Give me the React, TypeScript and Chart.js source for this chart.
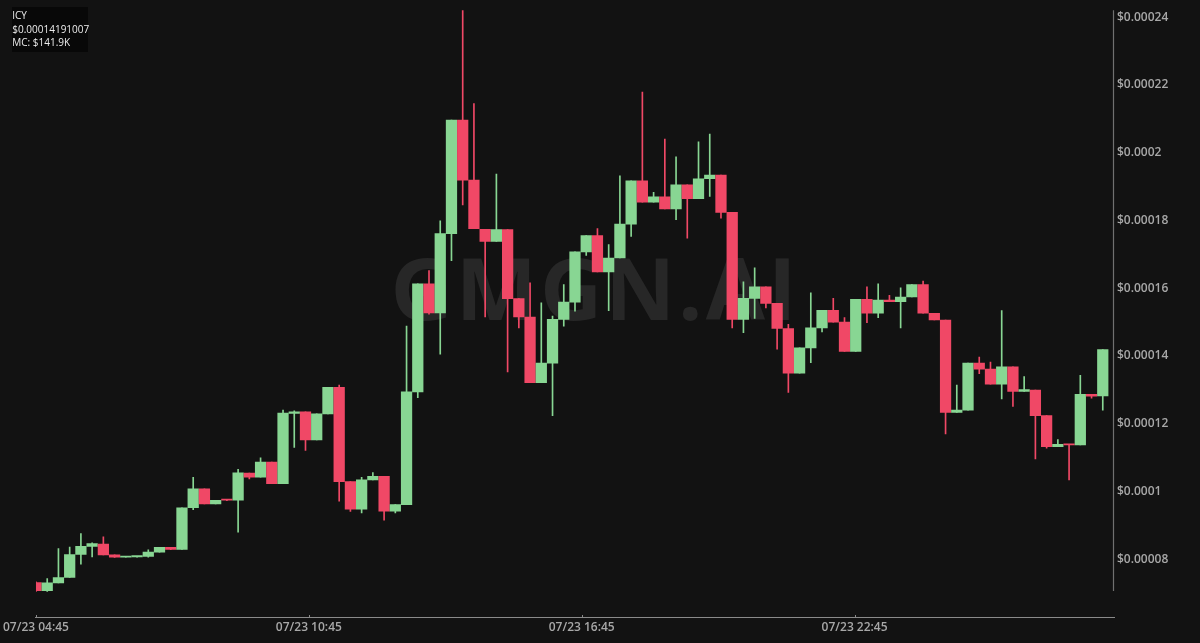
import React, { useEffect, useRef } from "react";
import { Chart, registerables } from "chart.js";

Chart.register(...registerables);

// Prices in millionths of a dollar (µ$), one 15-minute candle each
const openP = [
  73.1, 70.7, 73.0, 74.6, 81.4, 83.8, 84.5, 81.3, 80.6, 80.7,
  80.8, 82.1, 83.5, 82.9, 95.2, 100.8, 96.3, 97.6, 97.4, 105.4,
  104.2, 108.7, 102.3, 123.0, 123.5, 115.2, 122.9, 130.7, 102.9, 94.8,
  103.4, 104.5, 94.2, 96.1, 129.4, 161.3, 152.7, 176.1, 209.6, 191.9,
  177.4, 173.8, 177.3, 156.9, 151.5, 132.1, 137.9, 150.8, 155.9, 170.7,
  175.5, 164.8, 168.9, 178.9, 191.7, 185.4, 187.0, 183.4, 190.5, 186.4,
  192.3, 193.4, 182.4, 150.8, 157.0, 160.4, 155.5, 148.1, 134.9, 142.4,
  148.3, 153.5, 150.0, 141.3, 156.7, 152.6, 156.5, 156.0, 157.4, 161.1,
  152.6, 150.6, 123.3, 124.0, 137.9, 136.1, 131.7, 136.8, 129.5, 129.9,
  122.4, 113.2, 113.9, 113.7, 128.7, 128.2,
];
const highP = [
  73.3, 74.3, 83.1, 83.6, 87.6, 84.8, 86.6, 81.3, 80.8, 80.8,
  82.8, 83.5, 83.5, 95.2, 104.2, 100.8, 97.4, 97.7, 106.5, 105.4,
  109.9, 108.7, 124.0, 123.8, 123.5, 122.9, 130.7, 131.4, 102.9, 104.2,
  105.6, 104.5, 96.1, 148.8, 161.3, 165.2, 179.9, 209.6, 242.0, 214.5,
  177.4, 193.7, 177.3, 156.9, 161.6, 155.7, 151.8, 161.1, 170.7, 175.5,
  177.6, 172.9, 193.2, 191.7, 217.9, 188.3, 204.0, 198.8, 190.5, 203.2,
  205.5, 193.4, 182.4, 161.9, 166.0, 160.4, 155.5, 149.3, 142.4, 158.6,
  153.5, 157.0, 151.3, 156.7, 160.4, 161.3, 157.9, 160.1, 161.1, 162.1,
  152.6, 150.6, 131.4, 137.9, 139.7, 138.2, 153.4, 136.8, 133.9, 129.9,
  122.4, 115.3, 113.9, 134.3, 128.7, 141.9,
];
const lowP = [
  70.5, 70.5, 73.0, 74.6, 78.5, 80.7, 81.3, 80.5, 80.6, 80.6,
  80.6, 82.1, 82.8, 82.9, 94.6, 96.3, 96.3, 97.3, 88.0, 103.7,
  104.2, 102.3, 102.3, 113.0, 112.1, 115.2, 122.9, 97.1, 94.1, 93.7,
  103.4, 91.5, 93.7, 96.1, 127.7, 152.3, 140.5, 168.1, 184.6, 177.6,
  151.5, 173.8, 135.3, 148.3, 132.1, 132.1, 122.4, 148.8, 153.2, 169.7,
  164.8, 153.4, 168.9, 175.3, 185.4, 185.4, 183.4, 180.2, 174.8, 186.4,
  187.1, 180.7, 148.3, 146.9, 151.1, 154.2, 142.0, 129.2, 134.9, 138.0,
  147.1, 150.0, 141.3, 141.3, 149.8, 151.3, 156.0, 148.3, 157.4, 152.6,
  150.6, 117.0, 123.3, 124.0, 134.8, 131.7, 127.3, 125.1, 129.5, 109.6,
  112.8, 113.2, 103.4, 113.7, 127.5, 124.0,
];
const closeP = [
  70.7, 73.0, 74.6, 81.4, 83.8, 84.6, 81.3, 80.6, 80.8, 80.8,
  82.1, 83.5, 82.9, 95.2, 100.8, 96.3, 97.4, 97.4, 105.5, 104.2,
  108.7, 102.3, 123.1, 123.5, 115.2, 122.9, 130.7, 102.9, 94.8, 103.4,
  104.5, 94.2, 96.1, 129.4, 161.3, 152.7, 176.1, 209.6, 191.9, 177.6,
  173.8, 177.3, 156.9, 151.5, 132.1, 137.9, 150.8, 155.9, 170.7, 175.5,
  164.8, 168.9, 178.9, 191.7, 185.4, 187.0, 183.4, 190.5, 186.4, 192.3,
  193.4, 182.4, 150.8, 157.0, 160.4, 155.5, 148.1, 134.9, 142.4, 148.3,
  153.5, 150.0, 141.3, 156.7, 152.6, 156.5, 156.0, 157.4, 161.1, 152.6,
  150.6, 123.3, 124.0, 137.9, 136.1, 131.7, 136.8, 129.5, 130.1, 122.4,
  113.2, 113.9, 113.7, 128.7, 128.1, 141.9,
];

const xTickPositions = [0, 24.3, 48.6, 72.9];
const xTickLabels = ["07/23 04:45", "07/23 10:45", "07/23 16:45", "07/23 22:45"];

const tokenName = "ICY";
const priceText = "$0.00014191007";
const mcText = "MC: $141.9K";
const watermark = "GMGN.AI";

const UP = "#88d693";
const DOWN = "#f04866";
const BG = "#121212";

export default function App() {
  const canvasRef = useRef<HTMLCanvasElement | null>(null);

  useEffect(() => {
    document.body.style.margin = "0";
    document.body.style.background = BG;
    const canvas = canvasRef.current;
    if (!canvas) return;

    const colors = openP.map((o, i) => (closeP[i] >= o ? UP : DOWN));
    const bodies = openP.map((o, i) => ({ x: i, y: [o, closeP[i]] }));
    const wicks = openP.map((_, i) => ({ x: i, y: [lowP[i], highP[i]] }));

    const bgPlugin = {
      id: "bg",
      beforeDraw(chart: any) {
        const { ctx, width, height } = chart;
        ctx.save();
        ctx.fillStyle = BG;
        ctx.fillRect(0, 0, width, height);
        ctx.restore();
      },
      beforeDatasetsDraw(chart: any) {
        const { ctx } = chart;
        ctx.save();
        ctx.font = '700 86px "Open Sans"';
        (ctx as any).letterSpacing = "3px";
        ctx.fillStyle = "#272727";
        ctx.textAlign = "center";
        ctx.textBaseline = "alphabetic";
        ctx.fillText(watermark, 595, 320);
        ctx.restore();
      },
      afterDraw(chart: any) {
        const { ctx, chartArea } = chart;
        ctx.save();
        ctx.strokeStyle = "#707070";
        ctx.lineWidth = 1.2;
        ctx.beginPath();
        ctx.moveTo(chartArea.right - 0.5, chartArea.top);
        ctx.lineTo(chartArea.right - 0.5, chartArea.bottom - 26);
        ctx.stroke();
        const xs = chart.scales.x;
        ctx.strokeStyle = "#8a8a8a";
        ctx.lineWidth = 1;
        xTickPositions.forEach((p) => {
          const px = Math.round(xs.getPixelForValue(p)) + 0.5;
          ctx.beginPath();
          ctx.moveTo(px, chartArea.bottom - 2);
          ctx.lineTo(px, chartArea.bottom);
          ctx.stroke();
        });
        ctx.restore();
      },
    };

    const chart = new Chart(canvas, {
      type: "bar",
      data: {
        datasets: [
          {
            label: "body",
            data: bodies as any,
            backgroundColor: colors,
            borderWidth: 0,
            borderSkipped: false,
            barThickness: 10.6,
            minBarLength: 1.2,
            grouped: false,
          } as any,
          {
            label: "wick",
            data: wicks as any,
            backgroundColor: colors,
            borderWidth: 0,
            borderSkipped: false,
            barThickness: 1,
            grouped: false,
          } as any,
        ],
      },
      options: {
        animation: false,
        responsive: false,
        maintainAspectRatio: false,
        layout: { padding: { left: 34.5, top: 8, right: 0, bottom: 0 } },
        plugins: {
          legend: { display: false },
          tooltip: { enabled: false },
        },
        scales: {
          x: {
            type: "linear",
            min: 0,
            max: 96,
            offset: false,
            grid: { display: false, drawTicks: false },
            border: { display: true, color: "#8a8a8a", width: 1 },
            afterFit: (s: any) => {
              s.height = 26;
            },
            afterBuildTicks: (s: any) => {
              s.ticks = xTickPositions.map((v) => ({ value: v }));
            },
            ticks: {
              autoSkip: false,
              maxRotation: 0,
              padding: 3,
              color: "#a8a8a8",
              font: { family: "Open Sans", size: 12, weight: "600" },
              callback: (v: any) => {
                const k = xTickPositions.indexOf(Number(v));
                return k >= 0 ? xTickLabels[k] : "";
              },
            },
          } as any,
          y: {
            type: "linear",
            position: "right",
            min: 62.94,
            max: 242.06,
            grid: { display: false, drawTicks: false },
            border: { display: false },
            afterFit: (s: any) => {
              s.width = 86;
            },
            ticks: {
              stepSize: 20,
              includeBounds: false,
              padding: 3,
              color: "#a8a8a8",
              font: { family: "Open Sans", size: 12, weight: "600" },
              callback: (v: any) =>
                "$" + Number((Number(v) * 1e-6).toPrecision(4)).toString(),
            },
          } as any,
        },
      },
      plugins: [bgPlugin],
    });

    return () => chart.destroy();
  }, []);

  return (
    <div style={{ position: "relative", width: 1200, height: 643, background: BG }}>
      <canvas ref={canvasRef} width={1200} height={643} style={{ display: "block" }} />
      <div
        style={{
          position: "absolute",
          left: 11.7,
          top: 6.7,
          width: 76,
          height: 45,
          background: "#080808",
          color: "#ececec",
          fontFamily: '"Open Sans", sans-serif',
          fontSize: 10,
          lineHeight: "13.3px",
          padding: "2.6px 0 0 0.6px",
          boxSizing: "border-box",
          whiteSpace: "nowrap",
        }}
      >
        <div>{tokenName}</div>
        <div>{priceText}</div>
        <div>{mcText}</div>
      </div>
    </div>
  );
}
